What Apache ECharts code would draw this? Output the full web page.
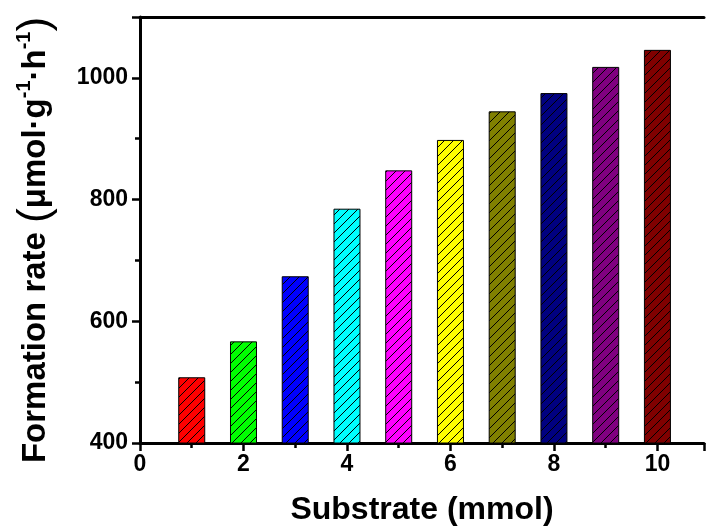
<!DOCTYPE html>
<html>
<head>
<meta charset="utf-8">
<script src="https://cdn.jsdelivr.net/npm/echarts@6/dist/echarts.min.js"></script>
<style>html,body{margin:0;padding:0;background:#fff}#c{width:707px;height:532px}</style>
</head>
<body>
<div id="c"></div>
<script>
const substrate = [1, 2, 3, 4, 5, 6, 7, 8, 9, 10];
const formationRate = [508, 567, 674, 785, 848, 898, 945, 975, 1018, 1046];
const barColors = ['#FF0000', '#00FF00', '#0000FF', '#00FFFF', '#FF00FF', '#FFFF00', '#808000', '#000080', '#800080', '#800000'];
const xTicks = [0, 2, 4, 6, 8, 10];
const yTicks = [400, 600, 800, 1000];

const FONT = '"Liberation Sans", Arial, sans-serif';

function hatch(color) {
  const s = 9;
  const cv = document.createElement('canvas');
  cv.width = s; cv.height = s;
  const ctx = cv.getContext('2d');
  ctx.fillStyle = color;
  ctx.fillRect(0, 0, s, s);
  ctx.strokeStyle = '#000';
  ctx.lineWidth = 1;
  ctx.beginPath();
  ctx.moveTo(-1, s + 1); ctx.lineTo(s + 1, -1);
  ctx.moveTo(-1, 1); ctx.lineTo(1, -1);
  ctx.moveTo(s - 1, s + 1); ctx.lineTo(s + 1, s - 1);
  ctx.stroke();
  return { image: cv, repeat: 'repeat' };
}

const chart = echarts.init(document.getElementById('c'), null, { renderer: 'canvas' });
const axisLineStyle = { color: '#000', width: 3 };

chart.setOption({
  animation: false,
  backgroundColor: '#fff',
  grid: { left: 140, right: 0, top: 17, bottom: 89, containLabel: false },
  xAxis: [{
    type: 'value', min: 0, max: 10.9, interval: 2,
    axisLine: { lineStyle: axisLineStyle, onZero: false },
    axisTick: { length: 8, lineStyle: { color: '#000', width: 2.5 } },
    minorTick: { show: true, splitNumber: 2, length: 5, lineStyle: { color: '#000', width: 2.5 } },
    splitLine: { show: false },
    axisLabel: {
      margin: 10, color: '#000', fontFamily: FONT, fontWeight: 'bold', fontSize: 23,
      formatter: v => (xTicks.indexOf(v) >= 0 ? String(v) : '')
    },
    name: 'Substrate (mmol)', nameLocation: 'middle', nameGap: 51,
    nameTextStyle: { color: '#000', fontFamily: FONT, fontWeight: 'bold', fontSize: 32 }
  }, {
    type: 'value', position: 'top', min: 0, max: 10.9,
    axisLine: { show: true, lineStyle: axisLineStyle },
    axisTick: { show: false }, axisLabel: { show: false }, splitLine: { show: false }
  }],
  yAxis: {
    type: 'value', min: 400, max: 1100, interval: 200,
    axisLine: { show: true, lineStyle: axisLineStyle },
    axisTick: { length: 8, lineStyle: { color: '#000', width: 2.5 } },
    minorTick: { show: true, splitNumber: 2, length: 5, lineStyle: { color: '#000', width: 2.5 } },
    splitLine: { show: false },
    axisLabel: {
      margin: 12, color: '#000', fontFamily: FONT, fontWeight: 'bold', fontSize: 23,
      formatter: v => (yTicks.indexOf(v) >= 0 ? String(v) : '')
    },
    name: '{t|Formation rate }{p|(}{t|μmol·g}{s|-1}{t|·h}{s|-1}{p|)}',
    nameLocation: 'middle', nameGap: 82,
    nameTextStyle: {
      color: '#000', fontFamily: FONT, fontWeight: 'bold', fontSize: 33,
      padding: [0, 20, 0, 0],
      rich: {
        t: { fontFamily: FONT, fontWeight: 'bold', fontSize: 33, color: '#000' },
        p: { fontFamily: FONT, fontWeight: 'normal', fontSize: 44, color: '#000' },
        s: { fontFamily: FONT, fontWeight: 'bold', fontSize: 20, color: '#000', verticalAlign: 'top' }
      }
    }
  },
  series: [{
    type: 'bar',
    barWidth: 27,
    data: substrate.map((x, i) => ({
      value: [x, formationRate[i]],
      itemStyle: { color: hatch(barColors[i]), borderColor: '#000', borderWidth: 1 }
    }))
  }]
});
</script>
</body>
</html>
